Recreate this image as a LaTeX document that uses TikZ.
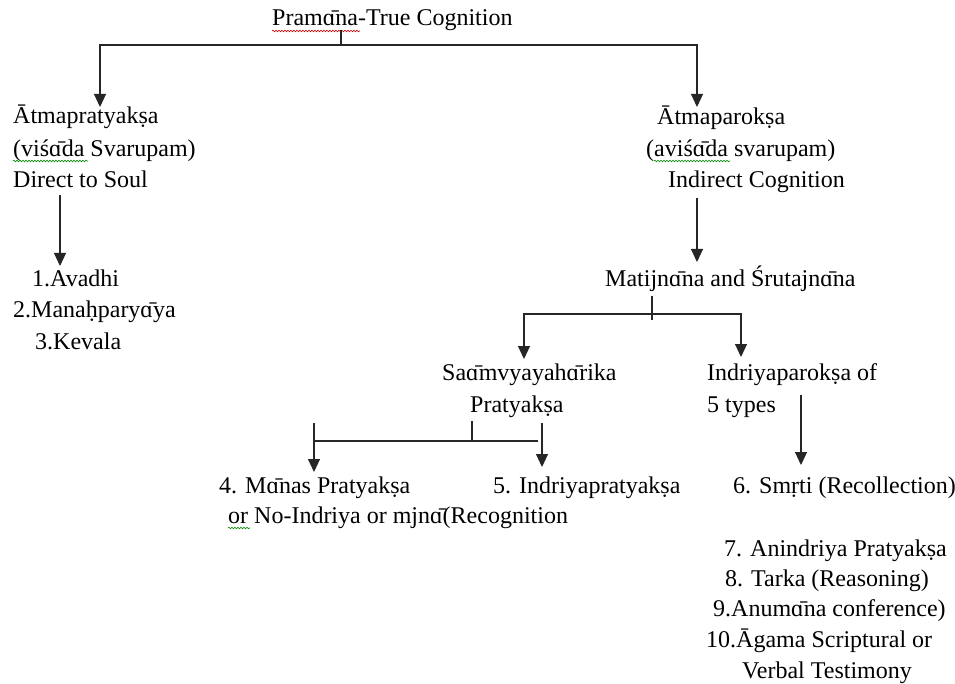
\documentclass[tikz,border=0pt]{standalone}
\usepackage{fontspec}
\setmainfont{Liberation Serif}
\usetikzlibrary{arrows.meta,decorations.pathmorphing}
\tikzset{
  txt/.style={anchor=base west, inner sep=0pt, font=\fontsize{24}{32}\selectfont},
  conn/.style={line width=1.1pt, draw=black!85},
  arr/.style={conn, -{Triangle[width=12pt,length=13pt]}},
  wavy/.style={line width=0.6pt, decorate, decoration={snake, amplitude=0.8pt, segment length=3pt}},
  wavyred/.style={wavy, draw=red!80!black},
  wavygreen/.style={wavy, draw=green!55!black}
}
\begin{document}
\begin{tikzpicture}[x=1pt,y=-1pt]
\useasboundingbox (0,0) rectangle (955,684);
% texts
\node[txt] (title) at (272,26) {Pramɑ̄na-True Cognition};
\node[txt] (ap1) at (13,124) {Ātmapratyakṣa};
\node[txt] (ap2) at (13,157) {(viśɑ̄da Svarupam)};
\node[txt] (ap3) at (13,188) {Direct to Soul};
\node[txt] (l1) at (32,287) {1.Avadhi};
\node[txt] (l2) at (13,318) {2.Manaḥparyɑ̄ya};
\node[txt] (l3) at (35,349) {3.Kevala};
\node[txt] (ar1) at (657,125) {Ātmaparokṣa};
\node[txt] (ar2) at (646,157) {(aviśɑ̄da svarupam)};
\node[txt] (ar3) at (668,188) {Indirect Cognition};
\node[txt] (mat) at (605,287) {Matijnɑ̄na and Śrutajnɑ̄na};
\node[txt] (sa1) at (442,380) {Saɑ̄mvyayahɑ̄rika};
\node[txt] (sa2) at (470,412) {Pratyakṣa};
\node[txt] (in1) at (707,380) {Indriyaparokṣa of};
\node[txt] (in2) at (707,412) {5 types};
\node[txt] (n4a) at (219,493) {4. Mɑ̄nas Pratyakṣa};
\node[txt] (n4b) at (228,523) {or No-Indriya or mjnɑ̄(Recognition};
\node[txt] (n5) at (493,493) {5. Indriyapratyakṣa};
\node[txt] (n6) at (733,493) {6. Smṛti (Recollection)};
\node[txt] (n7) at (724,556) {7. Anindriya Pratyakṣa};
\node[txt] (n8) at (725,586) {8. Tarka (Reasoning)};
\node[txt] (n9) at (713,616) {9.Anumɑ̄na conference)};
\node[txt] (n10) at (706,647) {10.Āgama Scriptural or};
\node[txt] (n10b) at (742,678) {Verbal Testimony};
% spell-check underlines
\draw[wavyred] (272,31) -- (360,31);
\draw[wavygreen] (13,161) -- (88,161);
\draw[wavygreen] (654,161) -- (730,161);
\draw[wavygreen] (228,528) -- (250,528);
% connector coordinates
\coordinate (t0) at (341,30);
\coordinate (j0) at (341,45);
\coordinate (jl) at (100,45);
\coordinate (jr) at (697,45);
\coordinate (apTip) at (100,107);
\coordinate (arTip) at (697,107);
\coordinate (ap3s) at (60,195);
\coordinate (l1Tip) at (60,266);
\coordinate (ar3s) at (697,198);
\coordinate (matTip) at (697,262);
\coordinate (m0) at (652,296);
\coordinate (m1) at (652,320);
\coordinate (mj) at (652,314);
\coordinate (ml) at (524,314);
\coordinate (mr) at (741,314);
\coordinate (saTip) at (524,359);
\coordinate (inTip) at (741,357);
\coordinate (s0) at (472,421);
\coordinate (sj) at (472,441);
\coordinate (sl) at (314,441);
\coordinate (sl0) at (314,423);
\coordinate (sr) at (538,441);
\coordinate (sr0) at (542,423);
\coordinate (n4Tip) at (314,472);
\coordinate (n5Tip) at (542,467);
\coordinate (in2s) at (801,395);
\coordinate (n6Tip) at (801,465);
% connectors
\draw[conn] (t0) -- (j0);
\draw[arr] (j0) -- (jl) -- (apTip);
\draw[arr] (j0) -- (jr) -- (arTip);
\draw[arr] (ap3s) -- (l1Tip);
\draw[arr] (ar3s) -- (matTip);
\draw[conn] (m0) -- (m1);
\draw[arr] (mj) -- (ml) -- (saTip);
\draw[arr] (mj) -- (mr) -- (inTip);
\draw[conn] (s0) -- (sj);
\draw[conn] (sr) -- (sl);
\draw[arr] (sl0) -- (n4Tip);
\draw[arr] (sr0) -- (n5Tip);
\draw[arr] (in2s) -- (n6Tip);
\end{tikzpicture}
\end{document}
